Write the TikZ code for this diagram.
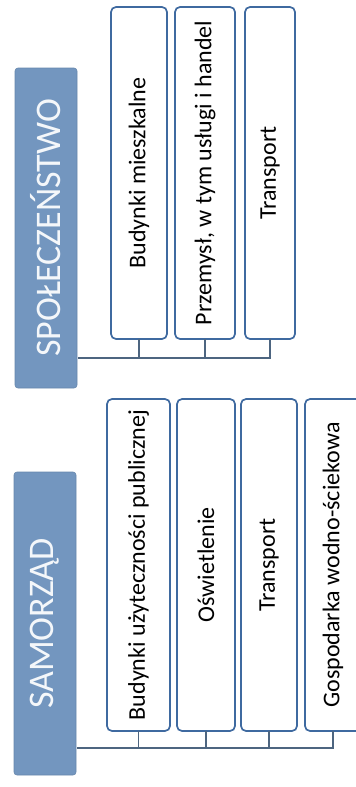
\documentclass[tikz,border=0pt]{standalone}
\usepackage{fontspec}
\setmainfont{Carlito}
\usepackage{tikz}
\usetikzlibrary{positioning,calc}

\definecolor{headblue}{HTML}{7396BF}
\definecolor{boxblue}{HTML}{3F6AA0}
\definecolor{linkgrey}{HTML}{4D6580}
\newcommand{\vlabel}[1]{\rotatebox{90}{#1}}

\begin{document}
\begin{tikzpicture}[
  x=1pt, y=1pt,
  header/.style={fill=headblue, draw=headblue!90!black, line width=0.6pt, rounded corners=3pt, inner sep=0pt, outer sep=0pt,
    text=white!92!headblue, font=\fontsize{36}{40}\selectfont, minimum width=62pt},
  item/.style={draw=boxblue, line width=1.7pt, rounded corners=5pt, fill=white, inner sep=0pt, outer sep=0pt,
    font=\fontsize{24}{28}\selectfont, minimum height=332pt},
  link/.style={draw=linkgrey, line width=1.8pt}
]
\useasboundingbox (0,0) rectangle (356,-787);

% Spoleczenstwo
\node[header, minimum height=320pt] (spol) at (46,-228) {\vlabel{SPOŁECZEŃSTWO}};
\node[item, minimum width=56pt] (sp1) at (139,-173) {\vlabel{Budynki mieszkalne}};
\node[item, minimum width=60pt, right=8pt of sp1] (sp2) {\vlabel{Przemysł, w tym usługi i handel}};
\node[item, minimum width=50pt, right=10pt of sp2] (sp3) {\vlabel{Transport}};
\coordinate (spbus) at ($(spol.south east)+(1,30)$);
\draw[link] (spbus) -| (sp3.south);
\foreach \n in {sp1,sp2}
  \draw[link] (\n.south) -- (\n.south |- spbus);

% Samorzad
\node[header, minimum height=303pt] (sam) at (45,-623.5) {\vlabel{SAMORZĄD}};
\node[item, minimum width=63pt] (sm1) at (138.5,-565) {\vlabel{Budynki użyteczności publicznej}};
\node[item, minimum width=58pt, right=7pt of sm1] (sm2) {\vlabel{Oświetlenie}};
\node[item, minimum width=56pt, right=6pt of sm2] (sm3) {\vlabel{Transport}};
\node[item, minimum width=56pt, right=8pt of sm3] (sm4) {\vlabel{Gospodarka wodno-ściekowa}};
\coordinate (smbus) at ($(sam.south east)+(1,27)$);
\draw[link] (smbus) -| (sm4.south);
\foreach \n in {sm1,sm2,sm3}
  \draw[link] (\n.south) -- (\n.south |- smbus);
\end{tikzpicture}
\end{document}
